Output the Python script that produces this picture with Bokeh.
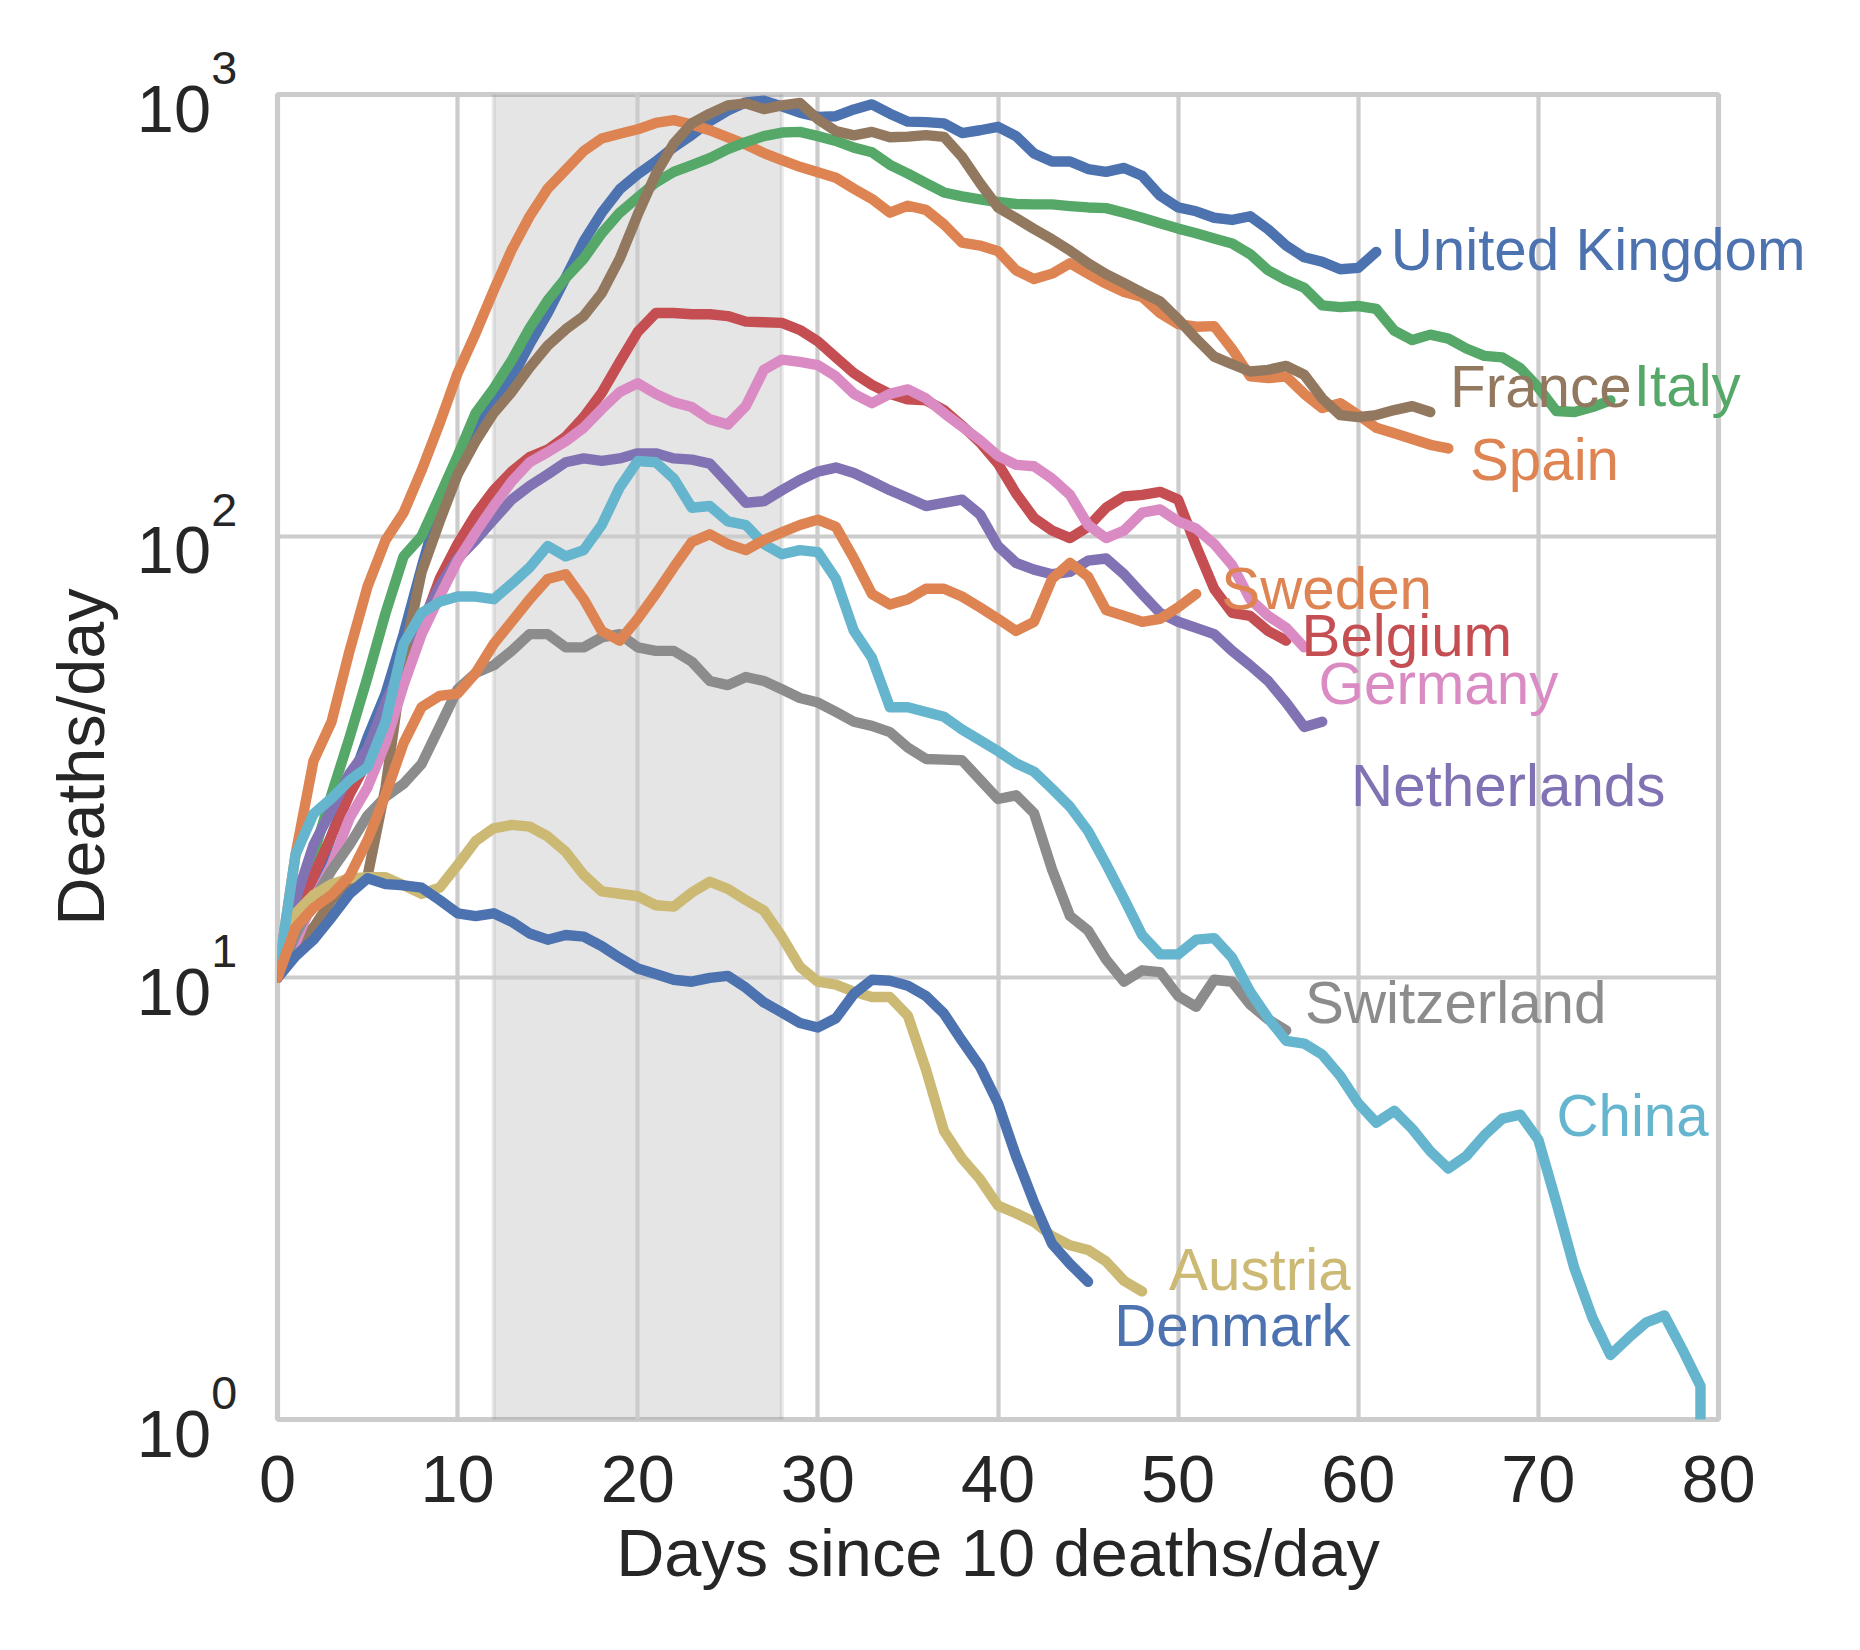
from bokeh.plotting import figure
from bokeh.models import FixedTicker, Range1d
from bokeh.core.properties import value
from bokeh.embed import file_html
from bokeh.resources import INLINE

# ---------------- data (deaths/day, one value per day since 10 deaths/day) ----------------
united_kingdom = [10, 13, 16, 21, 27, 35, 44, 60, 85, 118, 147, 175, 201, 228, 272, 320, 385, 465, 540, 610,
                  660, 705, 760, 810, 870, 920, 960, 968, 940, 910, 890, 893, 925, 950, 905, 868, 866, 860, 818, 830,
                  845, 805, 735, 705, 705, 678, 668, 682, 655, 590, 555, 544, 526, 520, 530, 495, 455, 428, 418, 402,
                  405, 440]
spain = [10, 19, 31, 38, 55, 77, 98, 113, 141, 180, 234, 288, 360, 445, 530, 612, 675, 745, 795, 815,
         834, 862, 875, 855, 830, 800, 770, 737, 710, 686, 667, 648, 612, 580, 540, 560, 548, 508, 462, 455,
         442, 400, 382, 393, 415, 393, 373, 357, 348, 320, 302, 298, 299, 265, 230, 228, 230, 210, 195, 200,
         188, 176, 171, 166, 161, 158]
italy = [10, 13, 19, 26, 35, 48, 67, 90, 100, 123, 152, 190, 216, 250, 296, 342, 384, 425, 485, 540,
         585, 632, 668, 692, 718, 752, 780, 805, 820, 823, 805, 785, 758, 740, 693, 662, 630, 600, 588, 579,
         571, 565, 564, 564, 559, 555, 553, 540, 526, 511, 497, 485, 472, 460, 435, 400, 380, 365, 333, 330,
         332, 327, 292, 278, 286, 280, 266, 256, 254, 240, 217, 192, 191, 196, 203]
belgium = [10, 13, 17, 21, 26, 31, 37, 47, 62, 80, 96, 112, 127, 140, 151, 157, 168, 186, 211, 248,
           290, 320, 320, 318, 318, 315, 306, 305, 304, 293, 276, 254, 234, 220, 210, 204, 203, 193, 178, 163,
           146, 125, 110, 103, 99, 105, 116, 123, 124, 126, 121, 95, 76, 67, 66, 61, 58]
netherlands = [10, 15, 20, 24, 29, 33, 42, 52, 64, 77, 89, 98, 109, 121, 130, 138, 147, 150, 148, 150,
               154, 154, 150, 149, 146, 132, 119, 120, 127, 134, 140, 143, 139, 133, 127, 122, 117, 119, 121, 112,
               95, 87, 84, 82, 83, 88, 89, 82, 74, 67, 64, 62, 60, 55, 51, 47, 42, 37, 38]
france = [10, 12, 13, 15, 16, 17, 27, 53, 83, 108, 138, 164, 190, 212, 241, 270, 294, 315, 355, 425,
          535, 660, 775, 860, 905, 945, 955, 927, 945, 957, 879, 826, 808, 823, 800, 803, 809, 802, 723, 630,
          555, 525, 496, 470, 443, 415, 392, 374, 356, 340, 310, 280, 255, 245, 236, 238, 243, 232, 205, 188,
          186, 188, 193, 197, 191]
germany = [10, 12, 15, 18, 23, 27, 34, 46, 60, 73, 88, 102, 117, 133, 147, 155, 164, 176, 194, 212,
           222, 210, 201, 196, 184, 179, 197, 238, 251, 248, 244, 230, 210, 200, 210, 215, 205, 190, 177, 165,
           152, 145, 144, 135, 124, 106, 99, 103, 113, 115, 108, 104, 96, 86, 72, 66, 62, 56]
switzerland = [10, 12.5, 15, 17.5, 20, 23.3, 25.7, 27.5, 30.5, 37, 45, 49, 51, 55, 60, 60, 56, 56, 59, 60,
               56, 55, 55, 52, 47, 46, 48, 47, 45, 43, 42, 40, 38, 37.2, 36, 33.2, 31.3, 31.2, 31.1, 28.1,
               25.4, 25.9, 23.6, 17.6, 13.8, 12.8, 11.0, 9.8, 10.4, 10.3, 9.1, 8.6, 9.9, 9.8, 8.7, 8.05, 7.6]
austria = [10, 14, 15.4, 16.3, 16.8, 16.9, 16.9, 16.2, 15.5, 16.0, 18.0, 20.4, 21.8, 22.2, 22.0, 20.9, 19.3,
           17.1, 15.7, 15.5, 15.3, 14.6, 14.5, 15.6, 16.5, 15.9, 15.0, 14.2, 12.4, 10.6, 9.8, 9.65, 9.3, 9.05,
           9.05, 8.2, 6.2, 4.5, 3.9, 3.5, 3.05, 2.93, 2.8, 2.6, 2.48, 2.42, 2.28, 2.06, 1.95]
china = [10, 19, 23.5, 25.5, 28, 30, 38, 57, 67, 71, 73, 73, 72, 78, 85, 95, 90, 93, 106, 129,
         148, 147, 135, 116, 117, 108, 106, 96, 91, 93, 92, 80, 61, 53, 41, 41, 40, 39, 36.5, 34.5,
         32.6, 30.6, 29.3, 26.8, 24.4, 21.5, 18.1, 15.1, 12.5, 11.3, 11.3, 12.2, 12.3, 11.1, 9.3, 8.1, 7.2,
         7.1, 6.7, 6.0, 5.2, 4.7, 5.0, 4.55, 4.05, 3.7, 3.95, 4.4, 4.8, 4.9, 4.3, 3.1, 2.2, 1.7, 1.4,
         1.53, 1.66, 1.72, 1.44, 1.19, 0.5]
china_days = list(range(80)) + [79]
denmark = [10, 11.2, 12.2, 13.7, 15.5, 16.8, 16.3, 16.2, 16.0, 15.0, 14.0, 13.8, 14.0, 13.4, 12.6, 12.2,
           12.5, 12.4, 11.8, 11.1, 10.5, 10.2, 9.9, 9.8, 10.0, 10.1, 9.5, 8.8, 8.35, 7.9, 7.72, 8.1, 9.2,
           9.9, 9.85, 9.6, 9.1, 8.3, 7.2, 6.3, 5.2, 3.95, 3.1, 2.5, 2.25, 2.05]
sweden = [10, 13, 14.4, 15.4, 17, 20.5, 26, 34, 41, 43.5, 44, 49, 57, 64, 72, 80, 82, 72, 61, 58,
          65, 74, 85, 97, 101, 96, 93, 98, 102, 106, 109, 105, 89, 74, 70, 72, 76, 76, 73, 69,
          65, 61, 64, 80, 87, 81, 68, 66, 64, 65, 69, 74]

countries = ["United Kingdom", "Spain", "Italy", "Belgium", "Netherlands", "France",
             "Germany", "Switzerland", "Austria", "China", "Denmark", "Sweden"]
series = [united_kingdom, spain, italy, belgium, netherlands, france,
          germany, switzerland, austria, china, denmark, sweden]
series_days = [list(range(len(s))) for s in series]
series_days[countries.index("China")] = china_days

# label anchors (day, deaths/day at text baseline)
label_x = [61.8, 66.2, 75.3, 56.85, 59.6, 65.1, 57.8, 57.05, 49.5, 71.0, 46.45, 52.4]
label_y = [404.5, 135.4, 198.6, 54.0, 24.7, 197.7, 42.1, 7.96, 1.976, 4.41, 1.479, 68.8]

lockdown_start = [12]
lockdown_end = [28]

x_ticks = [0, 10, 20, 30, 40, 50, 60, 70, 80]
y_ticks = [1, 10, 100, 1000]
y_bases = ["10", "10", "10", "10"]
y_exponents = ["0", "1", "2", "3"]

palette = ["#4C72B0", "#DD8452", "#55A868", "#C44E52", "#8172B3", "#937860",
           "#DA8BC3", "#8C8C8C", "#CCB974", "#64B5CD", "#4C72B0", "#DD8452"]

FONT = "Liberation Sans"
INK = "#262626"
GRID = "#cccccc"
BIG = "66.7px"

p = figure(width=1844, height=1634, output_backend="svg", toolbar_location=None,
           y_axis_type="log", x_range=Range1d(0, 80), y_range=Range1d(1, 1000),
           min_border_left=277, min_border_right=126, min_border_top=94, min_border_bottom=215)
p.background_fill_color = "white"
p.border_fill_color = "white"
p.outline_line_color = GRID
p.outline_line_width = 5.2

# axes
p.xaxis.ticker = FixedTicker(ticks=x_ticks)
p.xaxis.axis_line_color = None
p.xaxis.major_tick_line_color = None
p.xaxis.minor_tick_line_color = None
p.xaxis.major_label_text_font = FONT
p.xaxis.major_label_text_font_size = BIG
p.xaxis.major_label_text_color = INK
p.xaxis.major_label_standoff = 30
p.xaxis.axis_label = "Days since 10 deaths/day"
p.xaxis.axis_label_text_font = FONT
p.xaxis.axis_label_text_font_size = BIG
p.xaxis.axis_label_text_font_style = "normal"
p.xaxis.axis_label_text_color = INK
p.xaxis.axis_label_standoff = 11

p.yaxis.ticker = FixedTicker(ticks=y_ticks)
p.yaxis.axis_line_color = None
p.yaxis.major_tick_line_color = None
p.yaxis.minor_tick_line_color = None
p.yaxis.major_label_overrides = {1: " ", 10: " ", 100: " ", 1000: " "}
p.yaxis.major_label_text_font_size = "2px"
p.yaxis.major_label_standoff = 0
p.yaxis.axis_label = "Deaths/day"
p.yaxis.axis_label_text_font = FONT
p.yaxis.axis_label_text_font_size = BIG
p.yaxis.axis_label_text_font_style = "normal"
p.yaxis.axis_label_text_color = INK
p.yaxis.axis_label_standoff = 150

p.xgrid.ticker = FixedTicker(ticks=x_ticks)
p.ygrid.ticker = FixedTicker(ticks=y_ticks)
p.xgrid.grid_line_color = GRID
p.ygrid.grid_line_color = GRID
p.xgrid.grid_line_width = 4.2
p.ygrid.grid_line_width = 4.2

# shaded period (below the grid)
p.quad(left=lockdown_start, right=lockdown_end, bottom=[1e-3], top=[1e6],
       fill_color="#7f7f7f", fill_alpha=0.2, line_color="#7f7f7f", line_alpha=0.15,
       line_width=4.2, level="image")

for name, d, vals, col in zip(countries, series_days, series, palette):
    p.line(d, vals, line_color=col, line_width=10.4, line_cap="round", line_join="round")

# country names at the end of their curves (overlay level so they are not clipped by the frame)
p.text(x=label_x, y=label_y, text=countries, text_color=palette, y_offset=-18.9,
       text_font=value(FONT), text_font_size="58.3px", text_align="left",
       text_baseline="alphabetic", level="overlay")

# y tick labels: "10" with raised exponent
p.text(x=[0] * 4, y=y_ticks, text=y_bases, x_offset=-66.5, y_offset=14.3,
       text_color=INK, text_font=value(FONT), text_font_size=BIG, text_align="right",
       text_baseline="alphabetic", level="overlay")
p.text(x=[0] * 4, y=y_ticks, text=y_exponents, x_offset=-66.3, y_offset=-26.5,
       text_color=INK, text_font=value(FONT), text_font_size="46.7px", text_align="left",
       text_baseline="alphabetic", level="overlay")

open("out.html", "w").write(file_html(p, INLINE))
